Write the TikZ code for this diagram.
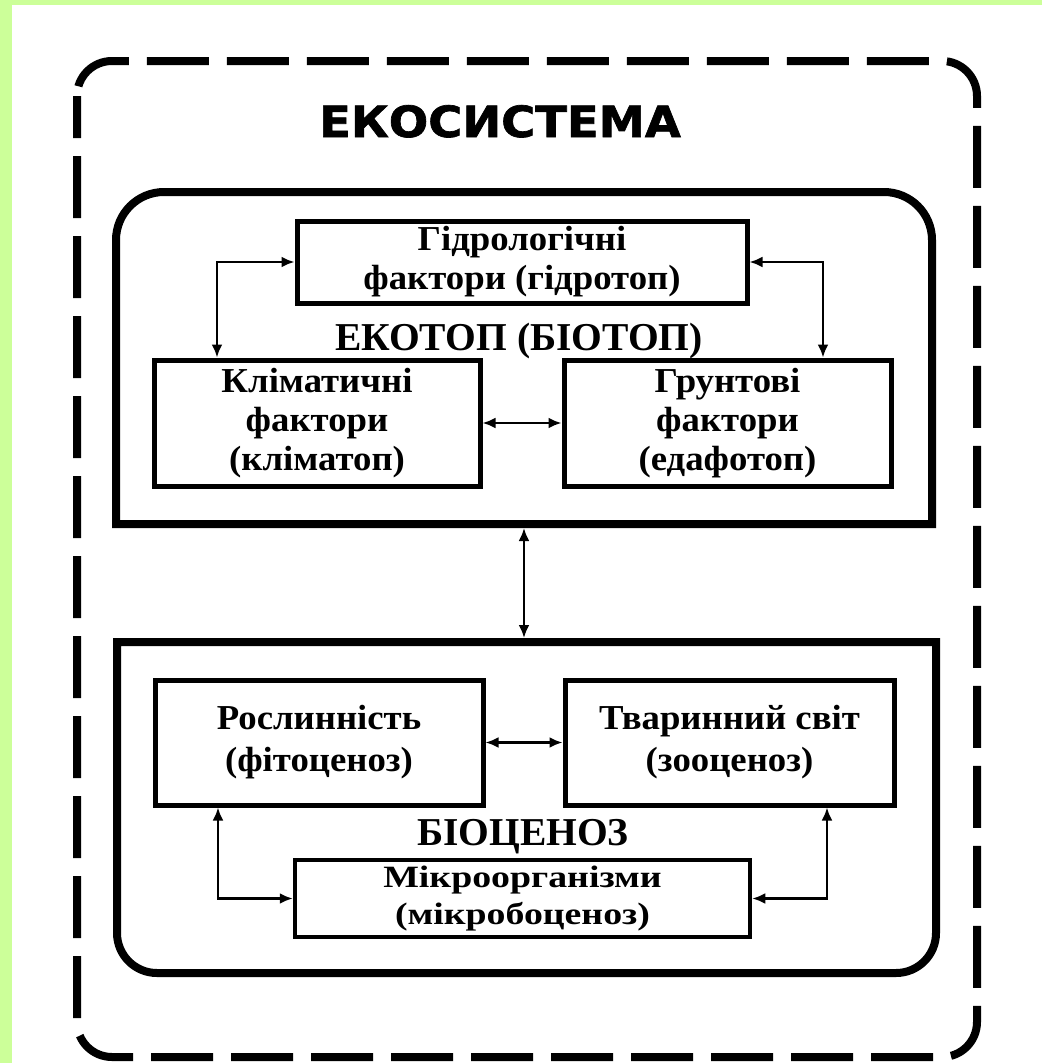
\documentclass[tikz,border=0pt]{standalone}
\usepackage{fontspec}
\setmainfont{Liberation Serif}
\newfontfamily\boxfont[FakeStretch=1.05]{Liberation Serif}
\newfontfamily\microfont[FakeStretch=1.22]{Liberation Serif}
\newfontfamily\titlefont[FakeStretch=1.08,BoldFeatures={FakeBold=1.6}]{DejaVu Sans}
\usetikzlibrary{arrows.meta,calc}
\definecolor{bgGreen}{RGB}{204,255,153}
\tikzset{
  frame/.style={line width=8pt, line join=miter},
  inbox/.style={draw, line width=5pt, inner sep=0pt, align=center,
    font=\boxfont\bfseries\fontsize{35}{39}\selectfont},
  link/.style={line width=2.4pt, {Latex[length=13pt,width=11pt]}-{Latex[length=13pt,width=11pt]}},
  lbl/.style={anchor=base, inner sep=0pt, font=\bfseries\fontsize{39.5}{44}\selectfont},
}
\begin{document}
\begin{tikzpicture}[x=1pt,y=-1pt]
\useasboundingbox (0,0) rectangle (1042,1063);
\fill[bgGreen] (0,0) rectangle (1042,1063);
\fill[white] (12,5) rectangle (1042,1063);

% outer dashed frame
\draw[line width=8pt, dash pattern=on 62pt off 18pt, dash phase=20pt, rounded corners=35pt] (77,61) rectangle (977,1057);
\node[anchor=base, inner sep=0pt, font=\titlefont\bfseries\fontsize{43}{46}\selectfont] (title) at (500,137) {ЕКОСИСТЕМА};

% ecotope frame
\draw[frame] (116,524) -- (116,240) arc[start angle=180,end angle=270,radius=48] -- (884,192)
  arc[start angle=270,end angle=360,radius=48] -- (932,524) -- cycle;
% biocenosis frame
\draw[frame] (117,642) -- (936,642) -- (936,933) arc[start angle=0,end angle=90,radius=40]
  -- (157,973) arc[start angle=90,end angle=180,radius=40] -- cycle;

\coordinate (ecoS) at (524,528);
\coordinate (bioN) at (524,638);
\coordinate (xL) at (217,0);
\coordinate (xR) at (823,0);
\coordinate (xBL) at (218,0);
\coordinate (xBR) at (827,0);

% ecotope boxes
\node[inbox, minimum width=450pt, minimum height=82pt] (hydro) at (522,262) {Гідрологічні\\фактори (гідротоп)};
\node[inbox, minimum width=326pt, minimum height=126pt] (clim) at (317,423) {Кліматичні\\фактори\\(кліматоп)};
\node[inbox, minimum width=327pt, minimum height=126pt] (soil) at (727.5,423) {Грунтові\\фактори\\(едафотоп)};
\node[lbl] (ecolbl) at (519,350) {ЕКОТОП (БІОТОП)};

% biocenosis boxes
\node[inbox, minimum width=328pt, minimum height=125pt, font=\boxfont\bfseries\fontsize{35}{42}\selectfont] (flora) at (319,742.5) {Рослинність\\(фітоценоз)};
\node[inbox, minimum width=329pt, minimum height=125pt, font=\boxfont\bfseries\fontsize{35}{42}\selectfont] (fauna) at (729.5,742.5) {Тваринний світ\\(зооценоз)};
\node[inbox, line width=4.5pt, minimum width=455pt, minimum height=77pt, font=\microfont\bfseries\fontsize{31}{37}\selectfont] (micro) at (522.5,898.5) {Мікроорганізми\\(мікробоценоз)};
\node[lbl] (biolbl) at (523,845) {БІОЦЕНОЗ};

% connectors
\draw[link] (hydro.west) -| (clim.north -| xL);
\draw[link] (hydro.east) -| (soil.north -| xR);
\draw[link] (clim.east) -- (soil.west);
\draw[link] (ecoS) -- (bioN);
\draw[link] (flora.east) -- (fauna.west);
\draw[link] (flora.south -| xBL) |- (micro.west);
\draw[link] (fauna.south -| xBR) |- (micro.east);
\end{tikzpicture}
\end{document}
